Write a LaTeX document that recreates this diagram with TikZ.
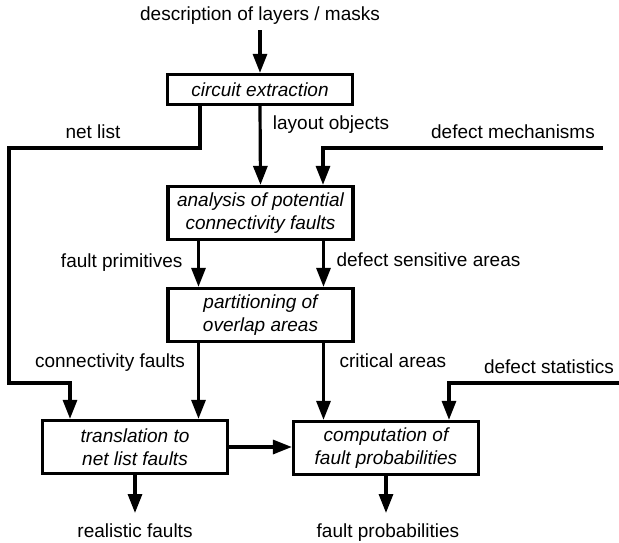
\documentclass[tikz,border=0pt]{standalone}
\usepackage{fontspec}
\setmainfont{Liberation Sans}
\usetikzlibrary{arrows.meta}
\begin{document}
\begin{tikzpicture}[x=1pt,y=-1pt,
  font=\fontsize{19}{23}\selectfont,
  line width=3.2pt, line join=miter,
  proc/.style={draw, line width=3.2pt, minimum width=185pt, minimum height=53pt, inner sep=2pt, align=center, font=\fontsize{19}{23}\selectfont\itshape},
  lbl/.style={inner sep=0pt, anchor=base},
  arr/.style={line width=3.2pt, -{Triangle[length=19pt,width=14pt]}}]
\useasboundingbox (0,0) rectangle (619,542);

% boxes
\node[proc, minimum height=30pt] (ce) at (260,89.5) {circuit extraction};
\node[proc] (an) at (260.5,213) {analysis of potential\\connectivity faults};
\node[proc] (pa) at (260.5,315) {partitioning of\\overlap areas};
\node[proc] (tr) at (135,447) {translation to\\net list faults};
\node[proc] (co) at (386,448) {computation of\\fault probabilities};

% labels
\node[lbl] (desc) at (260,20.5) {description of layers / masks};
\node[lbl] (lo) at (331,129) {layout objects};
\node[lbl] (nl) at (93,138) {net list};
\node[lbl] (dm) at (513,138) {defect mechanisms};
\node[lbl, anchor=base east] (fp) at (184,267) {fault primitives};
\node[lbl, anchor=base west] (ds) at (335,266) {defect sensitive areas};
\node[lbl] (cf) at (110,367) {connectivity faults};
\node[lbl, anchor=base west] (ca) at (338,367) {critical areas};
\node[lbl] (dst) at (549,373) {defect statistics};
\node[lbl] (rf) at (135,537) {realistic faults};
\node[lbl] (fpr) at (388,537) {fault probabilities};

% coordinates
\coordinate (descA) at (260,30);
\coordinate (nlA) at (200,148);
\coordinate (nlB) at (9,148);
\coordinate (nlC) at (9,383);
\coordinate (nlD) at (70,383);
\coordinate (dmA) at (603,148);
\coordinate (dmB) at (323,148);
\coordinate (xl) at (198.5,0);
\coordinate (xr) at (323.5,0);
\coordinate (dsA) at (619,383);
\coordinate (dsB) at (449,383);
\coordinate (rfA) at (135,513);
\coordinate (fpA) at (386,513);

% connectors
\draw[arr] (descA) -- (ce.north);
\draw[arr] (ce.south) -- (an.north);
\draw[arr] (ce.south -| nlA) -- (nlA) -- (nlB) -- (nlC) -- (nlD) -- (tr.north -| nlD);
\draw[arr] (dmA) -- (dmB) -- (an.north -| dmB);
\draw[arr] (an.south -| xl) -- (pa.north -| xl);
\draw[arr] (an.south -| xr) -- (pa.north -| xr);
\draw[arr] (pa.south -| xl) -- (tr.north -| xl);
\draw[arr] (pa.south -| xr) -- (co.north -| xr);
\draw[arr] (dsA) -- (dsB) -- (co.north -| dsB);
\draw[arr] (tr.east) -- (co.west |- tr.east);
\draw[arr] (tr.south) -- (rfA);
\draw[arr] (co.south) -- (fpA);
\end{tikzpicture}
\end{document}
